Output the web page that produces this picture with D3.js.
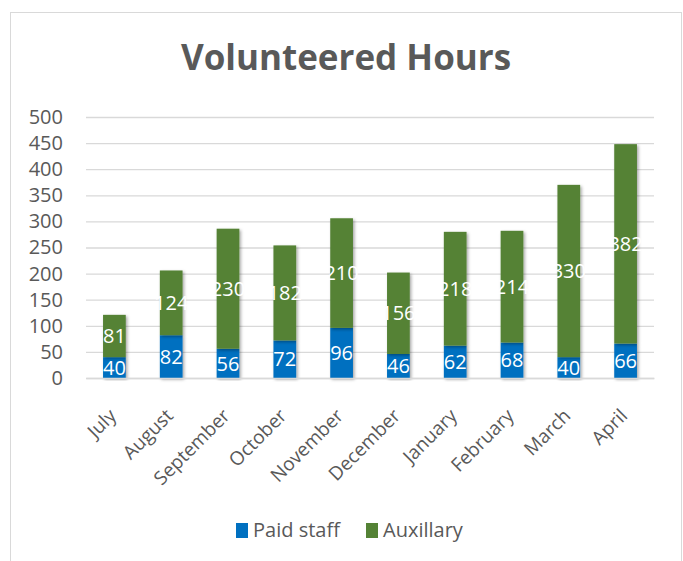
<!DOCTYPE html>
<html>
<head>
<meta charset="utf-8">
<script src="https://cdn.jsdelivr.net/npm/d3@7"></script>
<style>
  body { margin: 0; background: #fff; }
  text { font-family: "Open Sans", sans-serif; }
</style>
</head>
<body>
<div id="chart"></div>
<script>
const months = ["July", "August", "September", "October", "November", "December", "January", "February", "March", "April"];
const paidStaff = [40, 82, 56, 72, 96, 46, 62, 68, 40, 66];
const auxillary = [81, 124, 230, 182, 210, 156, 218, 214, 330, 382];
const yTicks = [0, 50, 100, 150, 200, 250, 300, 350, 400, 450, 500];
const seriesNames = ["Paid staff", "Auxillary"];
const colors = ["#0070C0", "#548235"];

const width = 683, height = 561;
const plotLeft = 86, plotRight = 654, plotTop = 117, plotBottom = 378;

// rows for d3.stack
const rows = months.map((m, i) => ({ month: m, paid: paidStaff[i], aux: auxillary[i] }));
const stacked = d3.stack().keys(["paid", "aux"])(rows);

const svg = d3.select("#chart").append("svg")
  .attr("width", width)
  .attr("height", height);

// frame
svg.append("rect")
  .attr("x", 10.5).attr("y", 12.5)
  .attr("width", 671).attr("height", 600)
  .attr("fill", "none")
  .attr("stroke", "#d9d9d9");

const defs = svg.append("defs");
defs.append("filter").attr("id", "shadow")
  .attr("x", "-30%").attr("y", "-10%").attr("width", "160%").attr("height", "120%")
  .append("feDropShadow")
  .attr("dx", 1.5).attr("dy", 1.5).attr("stdDeviation", 1.5)
  .attr("flood-color", "#000").attr("flood-opacity", 0.35);

const x = d3.scaleBand().domain(months).range([plotLeft, plotRight]).paddingInner(0.6).paddingOuter(0.3);
const y = d3.scaleLinear().domain([0, 500]).range([plotBottom, plotTop]);

// title
svg.append("text")
  .attr("x", 346).attr("y", 70)
  .attr("text-anchor", "middle")
  .attr("font-size", 35)
  .attr("font-weight", "bold")
  .attr("fill", "#595959")
  .text("Volunteered Hours");

// gridlines + y labels
const yAxis = svg.append("g")
  .attr("transform", `translate(${plotLeft},0)`)
  .call(d3.axisLeft(y).tickValues(yTicks).tickSize(-(plotRight - plotLeft)).tickPadding(23));
yAxis.select(".domain").remove();
yAxis.selectAll(".tick line").attr("stroke", "#d9d9d9").attr("stroke-width", 1.3);
yAxis.selectAll(".tick text")
  .attr("font-size", 20)
  .attr("fill", "#595959")
  .style("font-family", "'Open Sans', sans-serif");

// bars
const layer = svg.append("g").selectAll("g")
  .data(stacked)
  .join("g")
  .attr("fill", (d, i) => colors[i]);

layer.selectAll("rect")
  .data(d => d)
  .join("rect")
  .attr("x", d => x(d.data.month))
  .attr("width", x.bandwidth())
  .attr("y", d => y(d[1]))
  .attr("height", d => y(d[0]) - y(d[1]))
  .attr("filter", "url(#shadow)");

// data labels
layer.selectAll("text")
  .data(d => d.map(v => ({ v, key: d.key })))
  .join("text")
  .attr("x", d => x(d.v.data.month) + x.bandwidth() / 2)
  .attr("y", d => y((d.v[0] + d.v[1]) / 2))
  .attr("dy", "0.36em")
  .attr("text-anchor", "middle")
  .attr("font-size", 20)
  .attr("fill", "#fff")
  .text(d => d.v.data[d.key]);

// x axis
const xAxis = svg.append("g")
  .attr("transform", `translate(0,${plotBottom})`)
  .call(d3.axisBottom(x).tickSize(0));
xAxis.select(".domain").attr("stroke", "#d9d9d9").attr("stroke-width", 1.3);
xAxis.selectAll(".tick text")
  .attr("x", 0).attr("y", 0).attr("dy", 0)
  .attr("transform", "translate(3,39) rotate(-45)")
  .attr("text-anchor", "end")
  .attr("font-size", 19)
  .attr("fill", "#595959")
  .style("font-family", "'Open Sans', sans-serif");

// legend
const legendX = [236, 366];
const legend = svg.append("g").selectAll("g")
  .data(seriesNames)
  .join("g")
  .attr("transform", (d, i) => `translate(${legendX[i]},523)`);
legend.append("rect")
  .attr("width", 12).attr("height", 15)
  .attr("fill", (d, i) => colors[i]);
legend.append("text")
  .attr("x", 17).attr("y", 14)
  .attr("font-size", 20)
  .attr("fill", "#595959")
  .text(d => d);
</script>
</body>
</html>
